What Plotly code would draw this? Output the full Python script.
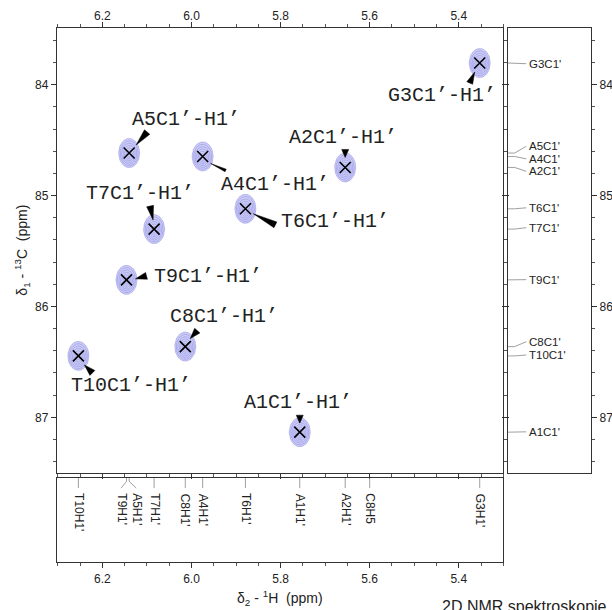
import numpy as np
import plotly.graph_objects as go

# ---------------- data ----------------
peak_names = ["G3", "A2", "A5", "A4", "T6", "T7", "T9", "C8", "T10", "A1"]
h_shift = [5.353, 5.655, 6.140, 5.975, 5.879, 6.084, 6.146, 6.014, 6.254, 5.757]
c_shift = [83.804, 84.746, 84.616, 84.647, 85.119, 85.302, 85.760, 86.362, 86.446, 87.134]
cross_labels = ["G3C1’-H1’", "A2C1’-H1’", "A5C1’-H1’", "A4C1’-H1’", "T6C1’-H1’",
                "T7C1’-H1’", "T9C1’-H1’", "C8C1’-H1’", "T10C1’-H1’", "A1C1’-H1’"]

c13_labels = ["G3C1'", "A5C1'", "A4C1'", "A2C1'", "T6C1'", "T7C1'", "T9C1'", "C8C1'", "T10C1'", "A1C1'"]
c13_shift = [83.804, 84.616, 84.647, 84.746, 85.119, 85.302, 85.760, 86.362, 86.446, 87.134]

h1_labels = ["T10H1'", "T9H1'", "A5H1'", "T7H1'", "C8H1'", "A4H1'", "T6H1'", "A1H1'", "A2H1'", "C8H5", "G3H1'"]
h1_shift = [6.254, 6.146, 6.140, 6.084, 6.014, 5.975, 5.879, 5.757, 5.655, 5.600, 5.353]

x_ticks = [6.2, 6.0, 5.8, 5.6, 5.4]
y_ticks = [84, 85, 86, 87]

# ---------------- layout positions ----------------
label_h = [5.437, 5.659, 6.012, 5.812, 5.679, 6.115, 5.962, 5.927, 6.136, 5.762]
label_c = [84.099, 84.478, 84.316, 84.903, 85.236, 84.984, 85.733, 86.094, 86.717, 86.870]
# wedge tip / base offsets from peak, in pixels (dx right, dy down), half width
wedge_tip = [(-5, 9), (0, -10), (7, -8), (8, 7), (8, 5), (-1, -9), (9, -1), (5, -8), (6, 9), (0, -9)]
wedge_base = [(-10, 20), (0, -18), (18, -21), (23, 14), (30, 16), (-4, -23), (20, -4), (12, -16), (14, 17), (0, -17)]
wedge_hw = [3.2, 3.5, 3.5, 1.4, 3.2, 3.5, 3.5, 3.5, 3.5, 3.5]
c13_label_pos = [83.810, 84.555, 84.668, 84.781, 85.110, 85.289, 85.758, 86.318, 86.438, 87.131]
h1_label_pos = [6.254, 6.158, 6.124, 6.084, 6.014, 5.975, 5.879, 5.757, 5.655, 5.600, 5.353]

W, H = 612, 610
ML, MR, MT, MB = 57, 21, 28, 48
PW, PH = W - ML - MR, H - MT - MB
XR = [6.302, 5.300]
YR = [87.505, 83.488]
xdom_main = [0, 0.8358]
xdom_right = [0.8446, 1]
ydom_main = [0.1661, 1]
ydom_bot = [0, 0.1573]

px_x = (xdom_main[1] - xdom_main[0]) * PW / (XR[0] - XR[1])
px_y = (ydom_main[1] - ydom_main[0]) * PH / (YR[0] - YR[1])


def off(h, c, dx, dy):
    return h - dx / px_x, c + dy / px_y


fig = go.Figure()

# contour ellipses
t = np.linspace(0, 2 * np.pi, 60)
levels = [1.0, 0.86, 0.72, 0.58, 0.44, 0.30, 0.16]
fx, fy, lx, ly = [], [], [], []
for h, c in zip(h_shift, c_shift):
    for i, k in enumerate(levels):
        sh = (1 - k) * 2.0
        xs = h - (10.5 * k * np.cos(t)) / px_x
        ys = c + (14.5 * k * np.sin(t) + sh) / px_y
        if i == 0:
            fx += list(xs) + [None]
            fy += list(ys) + [None]
        lx += list(xs) + [None]
        ly += list(ys) + [None]
fig.add_trace(go.Scatter(x=fx, y=fy, mode="lines", fill="toself", fillcolor="rgba(205,205,246,1)",
                         line=dict(width=0), hoverinfo="skip", showlegend=False, xaxis="x", yaxis="y"))
fig.add_trace(go.Scatter(x=lx, y=ly, mode="lines", line=dict(color="rgba(140,140,228,0.75)", width=0.7),
                         hoverinfo="skip", showlegend=False, xaxis="x", yaxis="y"))

# crosses
fig.add_trace(go.Scatter(x=h_shift, y=c_shift, mode="markers",
                         marker=dict(symbol="x-thin", size=11, line=dict(color="black", width=1.6)),
                         showlegend=False, xaxis="x", yaxis="y", hovertext=peak_names))

# wedges
wx, wy = [], []
for h, c, tp, bs, hw in zip(h_shift, c_shift, wedge_tip, wedge_base, wedge_hw):
    d = np.array(bs, float) - np.array(tp, float)
    d /= np.linalg.norm(d)
    p = np.array([-d[1], d[0]])
    pts = [np.array(tp, float), np.array(bs, float) + p * hw, np.array(bs, float) - p * hw, np.array(tp, float)]
    for q in pts:
        a, b = off(h, c, q[0], q[1])
        wx.append(a)
        wy.append(b)
    wx.append(None)
    wy.append(None)
fig.add_trace(go.Scatter(x=wx, y=wy, mode="lines", fill="toself", fillcolor="black",
                         line=dict(color="black", width=0.5), hoverinfo="skip", showlegend=False,
                         xaxis="x", yaxis="y"))

annotations = []
for txt, lh, lc in zip(cross_labels, label_h, label_c):
    annotations.append(dict(x=lh, y=lc, xref="x", yref="y", text=txt, showarrow=False,
                            font=dict(family="Liberation Mono, Courier New, monospace", size=20, color="#222"),
                            xanchor="center", yanchor="middle"))

# right panel (13C projection labels)
rx, ry = [], []
for s, lp in zip(c13_shift, c13_label_pos):
    rx += [0, 0.08, 0.22, None]
    ry += [s, s, lp, None]
fig.add_trace(go.Scatter(x=rx, y=ry, mode="lines", line=dict(color="#888", width=0.8),
                         hoverinfo="skip", showlegend=False, xaxis="x2", yaxis="y2"))
for txt, lp in zip(c13_labels, c13_label_pos):
    annotations.append(dict(x=0.235, y=lp, xref="x2", yref="y2", text=txt, showarrow=False,
                            font=dict(family="Liberation Sans, Arial", size=11.5, color="#222"),
                            xanchor="left", yanchor="middle", borderpad=0))

# bottom panel (1H projection labels)
bx, by = [], []
for s, lp in zip(h1_shift, h1_label_pos):
    bx += [s, s, lp, None]
    by += [1.0, 0.96, 0.88, None]
fig.add_trace(go.Scatter(x=bx, y=by, mode="lines", line=dict(color="#888", width=0.8),
                         hoverinfo="skip", showlegend=False, xaxis="x3", yaxis="y3"))
for txt, lp in zip(h1_labels, h1_label_pos):
    annotations.append(dict(x=lp, y=0.84, xref="x3", yref="y3", text=txt, showarrow=False, textangle=90,
                            font=dict(family="Liberation Sans, Arial", size=12, color="#222"),
                            xanchor="center", yanchor="top"))

# axis titles and caption
annotations.append(dict(x=(22 - ML) / PW, y=(ydom_main[0] + ydom_main[1]) / 2, xref="paper", yref="paper",
                        text="δ<sub>1</sub> - <sup>13</sup>C  (ppm)", textangle=-90, showarrow=False,
                        xanchor="center", yanchor="middle",
                        font=dict(family="Liberation Sans, Arial", size=14, color="#222")))
annotations.append(dict(x=(280 - ML) / PW, y=(MT + PH - 598) / PH, xref="paper", yref="paper",
                        text="δ<sub>2</sub> - <sup>1</sup>H  (ppm)", showarrow=False,
                        xanchor="center", yanchor="middle",
                        font=dict(family="Liberation Sans, Arial", size=14, color="#222")))
annotations.append(dict(x=(440 - ML) / PW, y=(MT + PH - 606) / PH, xref="paper", yref="paper",
                        text="2D NMR spektroskopie", showarrow=False, xanchor="left", yanchor="middle",
                        font=dict(family="Liberation Sans, Arial", size=16, color="#222")))

axfont = dict(family="Liberation Sans, Arial", size=12, color="#222")
common = dict(showgrid=False, zeroline=False, showline=True, linecolor="#333", linewidth=1.3,
              tickfont=axfont, tickcolor="#333", ticklen=5, automargin=False)

fig.update_layout(
    width=W, height=H, margin=dict(l=ML, r=MR, t=MT, b=MB, autoexpand=False),
    paper_bgcolor="white", plot_bgcolor="white", showlegend=False,
    annotations=annotations,
    xaxis=dict(domain=xdom_main, range=XR, anchor="y", side="top", ticks="outside", mirror="ticks",
               tickvals=x_ticks, ticktext=[f"{v:.1f}" for v in x_ticks], ticklabelstandoff=-3,
               minor=dict(dtick=0.05, tick0=5.3, ticks="outside", ticklen=3, tickcolor="#555"), **common),
    yaxis=dict(domain=ydom_main, range=YR, anchor="x", side="left", ticks="outside", mirror="ticks",
               tickvals=y_ticks, minor=dict(dtick=0.2, tick0=83.0, ticks="outside", ticklen=3, tickcolor="#555"),
               **common),
    xaxis2=dict(domain=xdom_right, range=[0, 1], anchor="y2", showticklabels=False, ticks="", mirror=True,
                showgrid=False, zeroline=False, showline=True, linecolor="#333", linewidth=1.3, automargin=False),
    yaxis2=dict(domain=ydom_main, range=YR, anchor="x2", side="right", ticks="outside", mirror="ticks",
                tickvals=y_ticks, minor=dict(dtick=0.2, tick0=83.0, ticks="outside", ticklen=3, tickcolor="#555"),
                **common),
    xaxis3=dict(domain=xdom_main, range=XR, anchor="y3", side="bottom", ticks="outside", mirror=True,
                tickvals=x_ticks, ticktext=[f"{v:.1f}" for v in x_ticks],
                minor=dict(dtick=0.05, tick0=5.3, ticks="outside", ticklen=3, tickcolor="#555"), **common),
    yaxis3=dict(domain=ydom_bot, range=[0, 1], anchor="x3", showticklabels=False, ticks="", mirror=True,
                showgrid=False, zeroline=False, showline=True, linecolor="#333", linewidth=1.3, automargin=False),
)

fig.write_html("out.html")
